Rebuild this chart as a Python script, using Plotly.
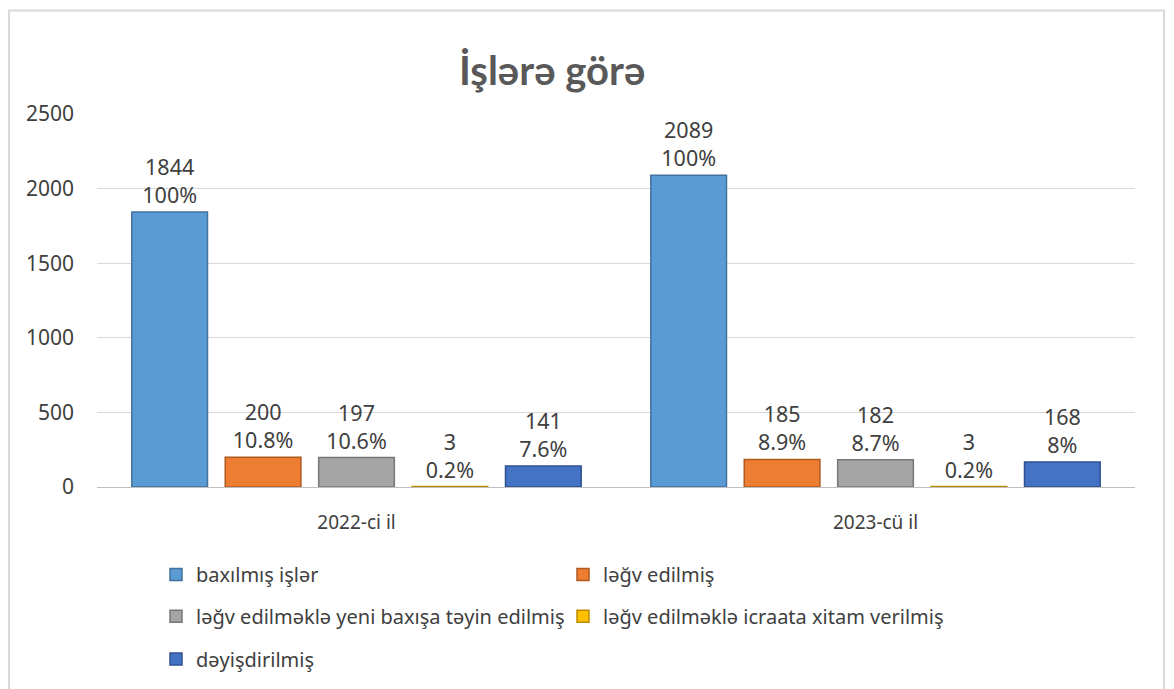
import plotly.graph_objects as go

categories = ["2022-ci il", "2023-cü il"]
series_names = [
    "baxılmış işlər",
    "ləğv edilmiş",
    "ləğv edilməklə yeni baxışa təyin edilmiş",
    "ləğv edilməklə icraata xitam verilmiş",
    "dəyişdirilmiş",
]
values = [
    [1844, 2089],
    [200, 185],
    [197, 182],
    [3, 3],
    [141, 168],
]
percents = [
    ["100%", "100%"],
    ["10.8%", "8.9%"],
    ["10.6%", "8.7%"],
    ["0.2%", "0.2%"],
    ["7.6%", "8%"],
]
colors = ["#5B9BD5", "#ED7D31", "#A5A5A5", "#FFC000", "#4472C4"]
edge_colors = ["#41719C", "#AE5A21", "#787878", "#BC8C00", "#2F528F"]
legend_ids = ["legend", "legend", "legend2", "legend2", "legend3"]
y_ticks = [0, 500, 1000, 1500, 2000, 2500]

# page offset (default body margin), vertical tuned
OFFX, OFFY = 8, 6
W, H = 1174 - OFFX, 689 - OFFY
ml, mr, mt, mb = 97 - OFFX, 1174 - 1135, 112 - OFFY, 689 - 487
pw = W - ml - mr
ph = H - mt - mb

def px_x(p):
    return (p - OFFX - ml) / pw

def px_y(p):
    return (H - mb - (p - OFFY)) / ph

fig = go.Figure()
for name, vals, pcts, c, ec, lg in zip(series_names, values, percents, colors, edge_colors, legend_ids):
    fig.add_trace(go.Bar(
        name=name,
        x=categories,
        y=vals,
        legend=lg,
        marker=dict(color=c, line=dict(color=ec, width=1.5)),
        text=[f"{v}<br>{p}" for v, p in zip(vals, pcts)],
        textposition="outside",
        textfont=dict(family="Noto Sans", size=21.5, color="#404040"),
        cliponaxis=False,
    ))

legend_common = dict(
    orientation="h",
    xanchor="left", yanchor="middle",
    entrywidth=362, entrywidthmode="pixels",
    font=dict(family="Noto Sans", size=20, color="#404040"),
    itemwidth=30,
    traceorder="normal",
    bgcolor="rgba(0,0,0,0)",
)
lx = px_x(156)

fig.update_layout(
    width=W, height=H,
    margin=dict(l=ml, r=mr, t=mt, b=mb),
    paper_bgcolor="white",
    plot_bgcolor="white",
    barmode="group",
    bargap=0.1,
    bargroupgap=0.19,
    showlegend=True,
    legend=dict(x=lx, y=px_y(575), **legend_common),
    legend2=dict(x=lx, y=px_y(617), **legend_common),
    legend3=dict(x=lx, y=px_y(660), **legend_common),
    xaxis=dict(
        range=[-0.5, 1.5],
        showgrid=False,
        showline=True, linecolor="#BFBFBF", linewidth=1,
        ticks="",
        tickfont=dict(family="Noto Sans", size=19, color="#404040"),
        ticklabelstandoff=18,
    ),
    yaxis=dict(
        range=[0, 2500],
        tickvals=y_ticks,
        showgrid=True, gridcolor="#D9D9D9", gridwidth=1,
        zeroline=False, showline=False,
        tickfont=dict(family="Noto Sans", size=21, color="#404040"),
        ticklabelstandoff=22,
    ),
    annotations=[dict(
        text="<b>İşlərə görə</b>",
        x=px_x(552), y=px_y(68),
        xref="paper", yref="paper",
        xanchor="center", yanchor="middle",
        showarrow=False,
        font=dict(family="Lato", size=40, color="#595959"),
    )],
    shapes=[dict(
        type="rect", xref="paper", yref="paper",
        x0=px_x(9), x1=px_x(1164), y0=px_y(720), y1=px_y(8),
        line=dict(color="#D9D9D9", width=2),
        fillcolor="rgba(0,0,0,0)",
        layer="below",
    )],
)

fig.write_html("out.html")
